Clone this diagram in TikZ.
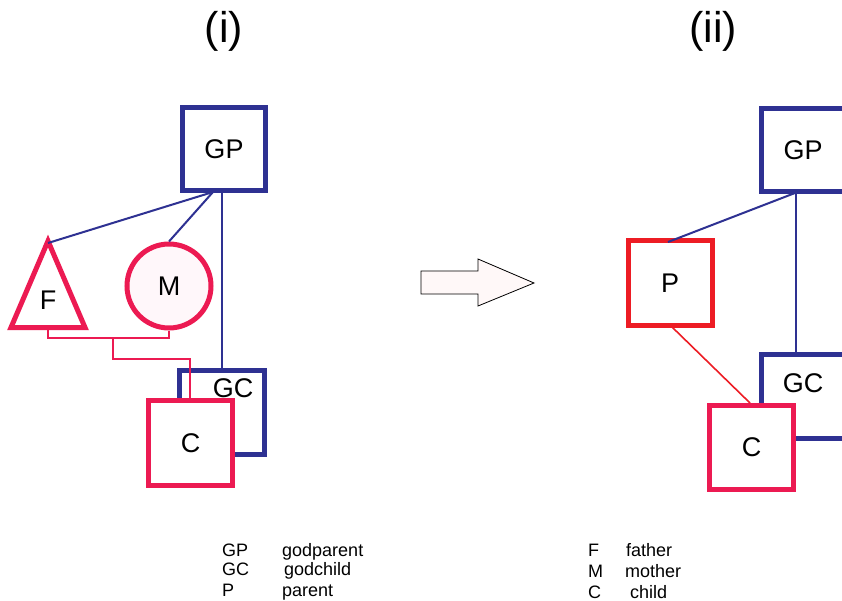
\documentclass[tikz,border=0pt]{standalone}
\usepackage{fontspec}
\setmainfont{Liberation Sans}
\definecolor{gpblue}{HTML}{2E3192}
\definecolor{kinred}{HTML}{EC1A52}
\definecolor{pred}{HTML}{ED1C24}
\definecolor{mfill}{HTML}{FFF7FA}
\definecolor{afill}{HTML}{FFF8F8}
\begin{document}
\begin{tikzpicture}[x=1pt,y=-1pt,
  bluebox/.style={draw=gpblue,line width=5pt,fill=white,minimum width=83pt,minimum height=83pt,inner sep=0pt,font=\fontsize{27}{30}\selectfont},
  redbox/.style={draw=kinred,line width=5pt,fill=white,minimum width=84pt,minimum height=85pt,inner sep=0pt,font=\fontsize{27}{30}\selectfont},
  lbl/.style={inner sep=0pt,font=\fontsize{27}{30}\selectfont},
  blueline/.style={draw=gpblue,line width=2pt},
  redline/.style={draw=kinred,line width=1.6pt},
  title/.style={inner sep=0pt,font=\fontsize{43}{50}\selectfont},
  legend/.style={inner sep=0pt,anchor=base west,font=\fontsize{18}{20}\selectfont}
]
\useasboundingbox (0,0) rectangle (842,601);
\fill[white] (0,0) rectangle (842,601);
% titles
\node[title] (t1) at (224,31) {(i)};
\node[title] (t2) at (713,31) {(ii)};

% ---------- left panel ----------
\node[bluebox] (gp1) at (224,149) {GP};
\node[bluebox,minimum width=85pt,minimum height=84pt] (gc1) at (222,412.5) {};
\node[lbl] (gc1t) at (233,388) {GC};
\coordinate (gpa1) at (213,192);
\coordinate (fapex) at (48,243);
\coordinate (fbase) at (48,328);
\draw[kinred,line width=5pt,line join=miter,fill=white] (48,241) -- (85,327.5) -- (11,327.5) -- cycle;
\node[lbl] (f) at (48,300) {F};
\node[circle,draw=kinred,line width=5pt,fill=mfill,minimum size=84pt,inner sep=0pt,font=\fontsize{27}{30}\selectfont] (m) at (169,286) {M};
\draw[blueline] (gpa1) -- (fapex);
\draw[blueline] (gpa1) -- (m.north);
\draw[blueline] (gp1.south -| gc1.north) -- (gc1.north);
\node[redbox] (c1) at (190.5,443) {C};
\draw[redline] (fbase) -- (48,338) -- (169,338) -- (m.south);
\draw[redline] (113,338) -- (113,359) -- (190,359) -- (c1.north -| 190,0);

% ---------- arrow ----------
\draw[black,line width=0.8pt,fill=afill,line join=miter] (421,271) -- (478,271) -- (478,259) -- (534,283) -- (478,306) -- (478,294) -- (421,294) -- cycle;

% ---------- right panel ----------
\node[bluebox,minimum width=84pt] (gp2) at (803,150) {GP};
\node[bluebox,minimum width=84pt,minimum height=84pt] (gc2) at (803,396) {};
\node[lbl] (gc2t) at (803,383) {GC};
\node[redbox,draw=pred] (p) at (670,283) {P};
\node[redbox,minimum width=84pt,minimum height=84pt] (c2) at (751.5,447.5) {C};
\draw[blueline] (795,193) -- (668,242);
\draw[blueline] (796,193) -- (796,353);
\draw[draw=pred,line width=1.6pt] (672,327) -- (750,403);

% ---------- legends ----------
\node[legend] (l1a) at (222,556) {GP};
\node[legend] (l1b) at (282,556) {godparent};
\node[legend] (l2a) at (222,575) {GC};
\node[legend] (l2b) at (284,575) {godchild};
\node[legend] (l3a) at (222,596) {P};
\node[legend] (l3b) at (282,596) {parent};
\node[legend] (l4a) at (588,556) {F};
\node[legend] (l4b) at (626,556) {father};
\node[legend] (l5a) at (588,577) {M};
\node[legend] (l5b) at (625,577) {mother};
\node[legend] (l6a) at (588,598) {C};
\node[legend] (l6b) at (630,598) {child};
\end{tikzpicture}
\end{document}
